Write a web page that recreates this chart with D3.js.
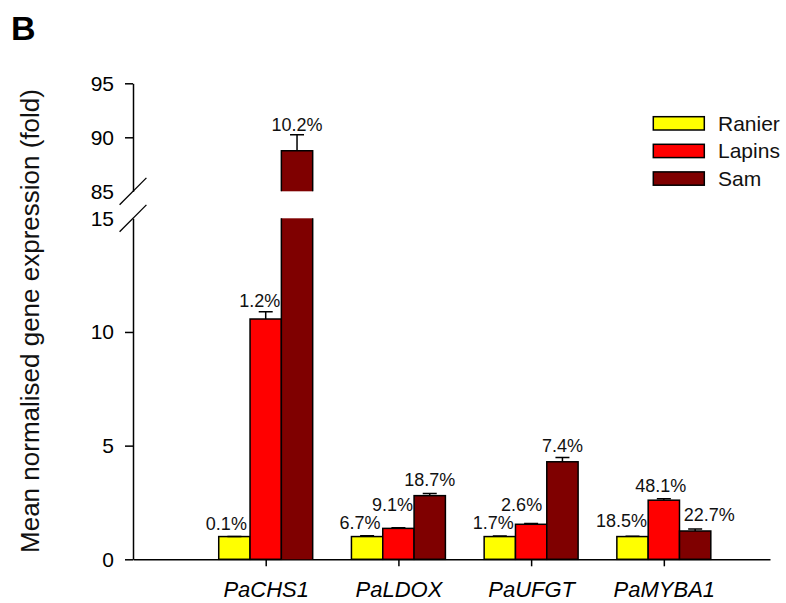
<!DOCTYPE html>
<html>
<head>
<meta charset="utf-8">
<script src="https://cdn.jsdelivr.net/npm/d3@7"></script>
<style>
  html, body { margin: 0; padding: 0; background: #fff; }
  svg { display: block; font-family: "Liberation Sans", Arial, Helvetica, sans-serif; }
</style>
</head>
<body>
<svg id="chart" width="786" height="603"></svg>
<script>
// Gene names on the x axis
const categories = ["PaCHS1", "PaLDOX", "PaUFGT", "PaMYBA1"];
const seriesNames = ["Ranier", "Lapins", "Sam"];

// Mean normalised expression (fold) per cultivar
const ranier = [1.0, 1.0, 1.0, 1.0];
const lapins = [10.57, 1.36, 1.54, 2.60];
const sam = [88.76, 2.80, 4.29, 1.245];

// Upper error whiskers
const ranierErr = [0.005, 0.04, 0.03, 0.01];
const lapinsErr = [0.32, 0.03, 0.03, 0.06];
const samErr = [1.48, 0.09, 0.19, 0.09];

// Percentage annotations above the bars
const ranierPct = ["0.1%", "6.7%", "1.7%", "18.5%"];
const lapinsPct = ["1.2%", "9.1%", "2.6%", "48.1%"];
const samPct = ["10.2%", "18.7%", "7.4%", "22.7%"];

// Broken y axis tick labels
const lowerTicks = [0, 5, 10, 15];
const upperTicks = [85, 90, 95];

// ---- layout ----
const colors = ["#ffff00", "#ff0000", "#7f0000"];
const axisX = 133;
const breakLow = 15, breakHigh = 85;
// small label offsets (dx from bar centre, gap above whisker) so labels don't collide
const labelNudge = [
  [[-8, 6.5], [-7, 6.4], [-6.5, 6.6], [-11, 9.8]],
  [[-6, 4.4], [-6, 16.6], [-9.5, 12.6], [-3, 6.6]],
  [[0, 4], [0, 7.3], [0, 5.6], [14, 8.3]]
];

const svg = d3.select("#chart");

const x = d3.scaleLinear().domain([0, 4.8]).range([axisX, 770]);
const yLow = d3.scaleLinear().domain([0, breakLow]).range([559.3, 218.3]);
const yHigh = d3.scaleLinear().domain([breakHigh, 95]).range([191.3, 83.3]);
const yPos = v => (v <= breakLow ? yLow(v) : yHigh(v));

const barW = x(0.236) - x(0);

const series = [
  { name: seriesNames[0], values: ranier, err: ranierErr, pct: ranierPct },
  { name: seriesNames[1], values: lapins, err: lapinsErr, pct: lapinsPct },
  { name: seriesNames[2], values: sam, err: samErr, pct: samPct }
];

// ---- y axes (two segments) ----
function styleAxis(g, font) {
  g.select(".domain").attr("stroke", "#000").attr("stroke-width", 1.5);
  g.selectAll(".tick line").attr("stroke", "#000").attr("stroke-width", 1.5);
  g.selectAll(".tick text").attr("fill", "#000").style("font-size", font + "px")
    .style("font-family", '"Liberation Sans", Arial, sans-serif');
}

const gLow = svg.append("g").attr("transform", `translate(${axisX},0)`)
  .call(d3.axisLeft(yLow).tickValues(lowerTicks).tickSize(8).tickSizeOuter(0).tickPadding(11).tickFormat(d3.format("d")));
styleAxis(gLow, 21);
gLow.selectAll(".tick").filter(d => d === breakLow).select("line").remove();

const gHigh = svg.append("g").attr("transform", `translate(${axisX},0)`)
  .call(d3.axisLeft(yHigh).tickValues(upperTicks).tickSize(8).tickSizeOuter(0).tickPadding(11).tickFormat(d3.format("d")));
styleAxis(gHigh, 21);
gHigh.selectAll(".tick").filter(d => d === breakHigh).select("line").remove();

// break marks
[yLow(breakLow), yHigh(breakHigh)].forEach(yy => {
  svg.append("line")
    .attr("x1", axisX - 13.4).attr("y1", yy + 13.4)
    .attr("x2", axisX + 13.4).attr("y2", yy - 13.4)
    .attr("stroke", "#000").attr("stroke-width", 1.3);
});

// ---- x axis ----
const gX = svg.append("g").attr("transform", `translate(0,${yLow(0)})`)
  .call(d3.axisBottom(x).tickValues([1, 2, 3, 4]).tickSize(7).tickSizeOuter(0).tickPadding(15)
    .tickFormat(d => categories[d - 1]));
styleAxis(gX, 22);
gX.selectAll(".tick text").style("font-style", "italic");

// ---- bars ----
const gBars = svg.append("g");
series.forEach((s, j) => {
  s.values.forEach((v, i) => {
    const cx = x(i + 1) + (j - 1) * barW;
    const x0 = cx - barW / 2, x1 = cx + barW / 2;
    if (v <= breakLow) {
      gBars.append("rect")
        .attr("x", x0).attr("y", yLow(v))
        .attr("width", barW).attr("height", yLow(0) - yLow(v))
        .attr("fill", colors[j]).attr("stroke", "#000").attr("stroke-width", 1.5);
    } else {
      // lower piece, clipped at the break
      gBars.append("rect")
        .attr("x", x0).attr("y", yLow(breakLow))
        .attr("width", barW).attr("height", yLow(0) - yLow(breakLow))
        .attr("fill", colors[j]);
      gBars.append("path")
        .attr("d", `M${x0},${yLow(0)}V${yLow(breakLow)}M${x1},${yLow(breakLow)}V${yLow(0)}`)
        .attr("fill", "none").attr("stroke", "#000").attr("stroke-width", 1.5);
      // upper piece
      gBars.append("rect")
        .attr("x", x0).attr("y", yHigh(v))
        .attr("width", barW).attr("height", yHigh(breakHigh) - yHigh(v))
        .attr("fill", colors[j]);
      gBars.append("path")
        .attr("d", `M${x0},${yHigh(breakHigh)}V${yHigh(v)}H${x1}V${yHigh(breakHigh)}`)
        .attr("fill", "none").attr("stroke", "#000").attr("stroke-width", 1.5);
    }
    // error whisker
    const yt = yPos(v + s.err[i]);
    gBars.append("path")
      .attr("d", `M${cx},${yPos(v)}V${yt}M${cx - 7},${yt}H${cx + 7}`)
      .attr("fill", "none").attr("stroke", "#000").attr("stroke-width", 1.5);
    // percentage label
    const nd = labelNudge[j][i];
    svg.append("text")
      .attr("x", cx + nd[0]).attr("y", yt - nd[1])
      .attr("text-anchor", "middle")
      .style("font-size", "18px").attr("fill", "#111")
      .text(s.pct[i]);
  });
});

// ---- legend ----
const gLeg = svg.append("g");
series.forEach((s, j) => {
  const cy = 123.3 + j * 27.6;
  gLeg.append("rect")
    .attr("x", 653.3).attr("y", cy - 6.6).attr("width", 51).attr("height", 13.3)
    .attr("fill", colors[j]).attr("stroke", "#000").attr("stroke-width", 1.5);
  gLeg.append("text")
    .attr("x", 718).attr("y", cy).attr("dy", "0.36em")
    .style("font-size", "21px").attr("fill", "#111")
    .text(s.name);
});

// ---- titles ----
svg.append("text")
  .attr("transform", "rotate(-90)")
  .attr("x", -321).attr("y", 39.3)
  .attr("text-anchor", "middle")
  .style("font-size", "26px").attr("fill", "#111")
  .text("Mean normalised gene expression  (fold)");

svg.append("text")
  .attr("x", 11).attr("y", 39.5)
  .style("font-size", "34px").style("font-weight", "bold").attr("fill", "#000")
  .text("B");
</script>
</body>
</html>
